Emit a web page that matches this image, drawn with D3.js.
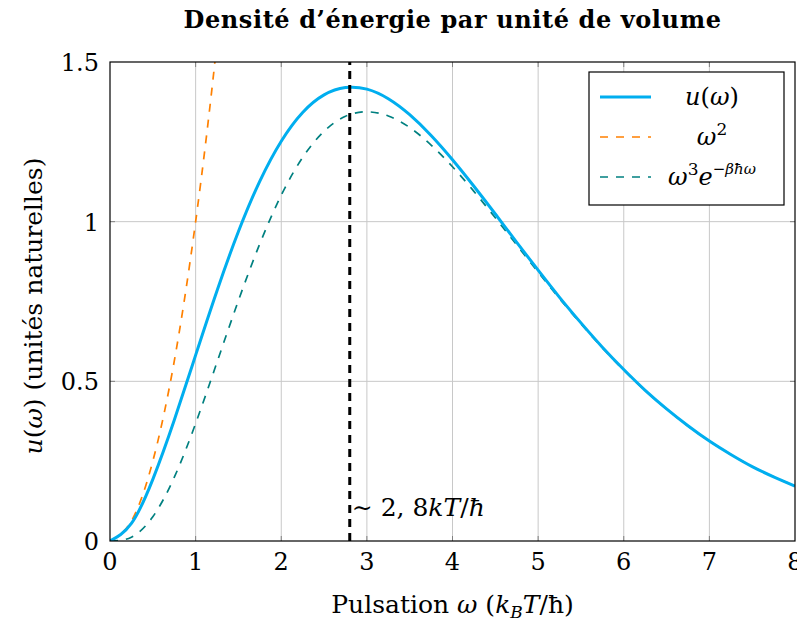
<!DOCTYPE html>
<html>
<head>
<meta charset="utf-8">
<script src="https://cdn.jsdelivr.net/npm/d3@7"></script>
<style>
  body { margin: 0; background: #fff; }
  svg { font-family: "DejaVu Serif", serif; }
</style>
</head>
<body>
<div id="chart"></div>
<script>
// pulsation sample points (k_B T / hbar)
const omega = [0, 0.25, 0.5, 0.75, 1, 1.25, 1.5, 1.75, 2, 2.25, 2.5, 2.75, 3, 3.25, 3.5, 3.75,
  4, 4.25, 4.5, 4.75, 5, 5.25, 5.5, 5.75, 6, 6.25, 6.5, 6.75, 7, 7.25, 7.5, 7.75, 8];
// u(omega), Planck
const planck = [0, 0.055, 0.193, 0.378, 0.582, 0.784, 0.969, 1.127, 1.252, 1.342, 1.397, 1.420, 1.415, 1.385,
  1.335, 1.270, 1.194, 1.111, 1.024, 0.935, 0.848, 0.763, 0.683, 0.607, 0.537, 0.472, 0.414, 0.361,
  0.313, 0.271, 0.233, 0.201, 0.172];
// omega^2, Rayleigh-Jeans
const rjOmega = [0, 0.25, 0.5, 0.75, 1, 1.25, 1.5];
const rayleigh = [0, 0.0625, 0.25, 0.5625, 1, 1.5625, 2.25];
// omega^3 e^{-omega}, Wien
const wien = [0, 0.012, 0.076, 0.199, 0.368, 0.560, 0.753, 0.931, 1.083, 1.201, 1.283, 1.330, 1.344, 1.331,
  1.295, 1.240, 1.172, 1.095, 1.012, 0.927, 0.842, 0.759, 0.680, 0.605, 0.535, 0.471, 0.413, 0.360,
  0.313, 0.271, 0.233, 0.201, 0.172];
const peakOmega = 2.8;
const xTicks = [0, 1, 2, 3, 4, 5, 6, 7, 8];
const yTicks = [0, 0.5, 1, 1.5];

const W = 797, H = 622;
const margin = {top: 62, right: 2, bottom: 81, left: 110};
const width = W - margin.left - margin.right,
  height = H - margin.top - margin.bottom;

const svg = d3.select("#chart").append("svg")
  .attr("width", W).attr("height", H);
const g = svg.append("g").attr("transform", `translate(${margin.left},${margin.top})`);

const x = d3.scaleLinear().domain([0, 8]).range([0, width]);
const y = d3.scaleLinear().domain([0, 1.5]).range([height, 0]);

svg.append("defs").append("clipPath").attr("id", "clip")
  .append("rect").attr("width", width).attr("height", height);

// grid
g.append("g").selectAll("line").data(xTicks.slice(1, -1)).join("line")
  .attr("x1", d => x(d)).attr("x2", d => x(d)).attr("y1", 0).attr("y2", height)
  .attr("stroke", "#c8c8c8").attr("stroke-width", 1);
g.append("g").selectAll("line").data(yTicks.slice(1, -1)).join("line")
  .attr("y1", d => y(d)).attr("y2", d => y(d)).attr("x1", 0).attr("x2", width)
  .attr("stroke", "#c8c8c8").attr("stroke-width", 1);

// inner tick marks on all four sides
const tk = 5;
const tickG = g.append("g").attr("stroke", "#808080").attr("stroke-width", 1);
xTicks.slice(1, -1).forEach(t => {
  tickG.append("line").attr("x1", x(t)).attr("x2", x(t)).attr("y1", height).attr("y2", height - tk);
  tickG.append("line").attr("x1", x(t)).attr("x2", x(t)).attr("y1", 0).attr("y2", tk);
});
yTicks.slice(1, -1).forEach(t => {
  tickG.append("line").attr("y1", y(t)).attr("y2", y(t)).attr("x1", 0).attr("x2", tk);
  tickG.append("line").attr("y1", y(t)).attr("y2", y(t)).attr("x1", width).attr("x2", width - tk);
});

const line = d3.line().x(d => x(d[0])).y(d => y(d[1])).curve(d3.curveNatural);
const curves = g.append("g").attr("clip-path", "url(#clip)");

const series = [
  {name: "rayleigh", xs: rjOmega, ys: rayleigh, color: "#ff8000", w: 1.7, dash: "8,8"},
  {name: "wien", xs: omega, ys: wien, color: "#008080", w: 1.7, dash: "8,8"},
  {name: "planck", xs: omega, ys: planck, color: "#00aeef", w: 3, dash: null}
];
series.forEach(s => {
  curves.append("path")
    .datum(s.xs.map((v, i) => [v, s.ys[i]]))
    .attr("fill", "none")
    .attr("stroke", s.color)
    .attr("stroke-width", s.w)
    .attr("stroke-dasharray", s.dash)
    .attr("d", line);
});

// peak marker
g.append("line")
  .attr("x1", x(peakOmega)).attr("x2", x(peakOmega))
  .attr("y1", y(0)).attr("y2", y(1.5))
  .attr("stroke", "#000").attr("stroke-width", 3).attr("stroke-dasharray", "8,6");

const ann = g.append("text")
  .attr("x", x(peakOmega) + 2).attr("y", y(0.08) + 1)
  .attr("font-size", 25);
ann.append("tspan").text("∼ 2, 8");
ann.append("tspan").attr("font-style", "italic").text("kT");
ann.append("tspan").text("/");
ann.append("tspan").attr("font-style", "italic").text("ħ");

// frame
g.append("rect").attr("width", width).attr("height", height)
  .attr("fill", "none").attr("stroke", "#000").attr("stroke-width", 1.2);

// tick labels
g.append("g").selectAll("text").data(xTicks).join("text")
  .attr("x", d => x(d)).attr("y", height + 29)
  .attr("text-anchor", "middle").attr("font-size", 24)
  .text(d => d);
g.append("g").selectAll("text").data(yTicks).join("text")
  .attr("x", -11).attr("y", d => y(d) + 9)
  .attr("text-anchor", "end").attr("font-size", 24)
  .text(d => d);

// axis labels
const xl = svg.append("text")
  .attr("x", margin.left + width / 2).attr("y", 613)
  .attr("text-anchor", "middle").attr("font-size", 25);
xl.append("tspan").text("Pulsation ");
xl.append("tspan").attr("font-style", "italic").text("ω");
xl.append("tspan").text(" (");
xl.append("tspan").attr("font-style", "italic").text("k");
xl.append("tspan").attr("font-style", "italic").attr("font-size", 17).attr("dy", 5).text("B");
xl.append("tspan").attr("font-style", "italic").attr("dy", -5).text("T");
xl.append("tspan").text("/ħ)");

const yl = svg.append("text")
  .attr("transform", `translate(42,${306}) rotate(-90)`)
  .attr("text-anchor", "middle").attr("font-size", 25);
yl.append("tspan").attr("font-style", "italic").text("u");
yl.append("tspan").text("(");
yl.append("tspan").attr("font-style", "italic").text("ω");
yl.append("tspan").text(") (unités naturelles)");

// title
svg.append("text")
  .attr("x", margin.left + width / 2).attr("y", 28)
  .attr("text-anchor", "middle").attr("font-size", 24).attr("font-weight", "bold")
  .attr("letter-spacing", 0.6)
  .text("Densité d’énergie par unité de volume");

// legend
const lg = svg.append("g").attr("transform", "translate(589,72)");
lg.append("rect").attr("width", 195).attr("height", 133)
  .attr("fill", "#fff").attr("stroke", "#000").attr("stroke-width", 1.2);
const rows = [series[2], series[0], series[1]];
function cy(i) { return 25 + i * 40 + 8; }
rows.forEach((s, i) => {
  const ly = 25 + i * 40;
  lg.append("line").attr("x1", 11).attr("x2", 62).attr("y1", ly).attr("y2", ly)
    .attr("stroke", s.color).attr("stroke-width", s.w).attr("stroke-dasharray", s.dash);
});
const l1 = lg.append("text").attr("x", 123).attr("y", cy(0)).attr("text-anchor", "middle").attr("font-size", 24);
l1.append("tspan").attr("font-style", "italic").text("u");
l1.append("tspan").text("(");
l1.append("tspan").attr("font-style", "italic").text("ω");
l1.append("tspan").text(")");
const l2 = lg.append("text").attr("x", 123).attr("y", cy(1)).attr("text-anchor", "middle").attr("font-size", 24);
l2.append("tspan").attr("font-style", "italic").text("ω");
l2.append("tspan").attr("font-size", 17).attr("dy", -10).text("2");
const l3 = lg.append("text").attr("x", 123).attr("y", cy(2)).attr("text-anchor", "middle").attr("font-size", 24);
l3.append("tspan").attr("font-style", "italic").text("ω");
l3.append("tspan").attr("font-size", 17).attr("dy", -10).text("3");
l3.append("tspan").attr("font-style", "italic").attr("dy", 10).text("e");
l3.append("tspan").attr("font-size", 15).attr("dy", -11).text("−");
l3.append("tspan").attr("font-size", 15).attr("font-style", "italic").text("βħω");
</script>
</body>
</html>
